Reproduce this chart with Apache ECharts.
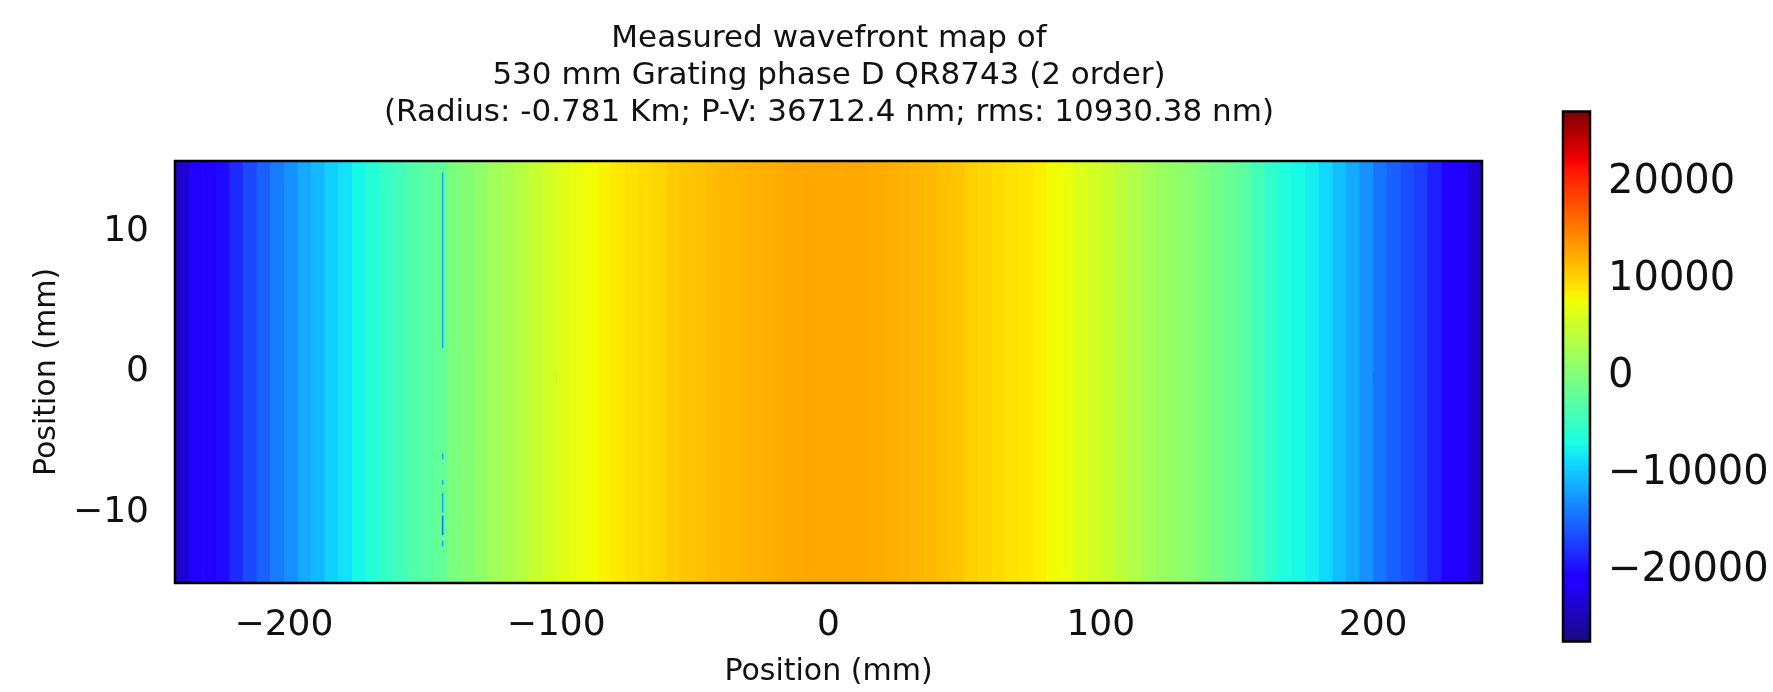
<!DOCTYPE html>
<html>
<head>
<meta charset="utf-8">
<script src="https://cdn.jsdelivr.net/npm/echarts@6/dist/echarts.min.js"></script>
<style>
  html, body { margin: 0; padding: 0; background: #ffffff; }
  #chart { width: 1773px; height: 692px; }
</style>
</head>
<body>
<div id="chart"></div>
<script>
// Column centres across the grating aperture (mm), one per 5 mm strip
const positionX = [
  -237.5, -232.5, -227.5, -222.5, -217.5, -212.5, -207.5, -202.5, -197.5, -192.5, -187.5, -182.5,
  -177.5, -172.5, -167.5, -162.5, -157.5, -152.5, -147.5, -142.5, -137.5, -132.5, -127.5, -122.5,
  -117.5, -112.5, -107.5, -102.5, -97.5, -92.5, -87.5, -82.5, -77.5, -72.5, -67.5, -62.5,
  -57.5, -52.5, -47.5, -42.5, -37.5, -32.5, -27.5, -22.5, -17.5, -12.5, -7.5, -2.5,
  2.5, 7.5, 12.5, 17.5, 22.5, 27.5, 32.5, 37.5, 42.5, 47.5, 52.5, 57.5,
  62.5, 67.5, 72.5, 77.5, 82.5, 87.5, 92.5, 97.5, 102.5, 107.5, 112.5, 117.5,
  122.5, 127.5, 132.5, 137.5, 142.5, 147.5, 152.5, 157.5, 162.5, 167.5, 172.5, 177.5,
  182.5, 187.5, 192.5, 197.5, 202.5, 207.5, 212.5, 217.5, 222.5, 227.5, 232.5, 237.5
];
// Measured wavefront height of each strip (nm)
const wavefront = [
  -23500, -21400, -20900, -20000, -18200, -16600, -15300, -13800, -12800, -11500, -10600, -9300,
  -8400, -7200, -6100, -5000, -4100, -3100, -2500, -1800, -300, 400, 1300, 2300,
  3000, 3900, 5000, 5700, 6600, 7300, 7800, 8400, 8900, 9300, 9700, 10000,
  10600, 10900, 11200, 11500, 11800, 11900, 12200, 12300, 12500, 12600, 12600, 12600,
  12600, 12600, 12600, 12500, 12400, 12200, 11900, 11700, 11300, 10900, 10300, 10000,
  9700, 9300, 9000, 8500, 7900, 7500, 6400, 5900, 5200, 4200, 3500, 2500,
  1900, 1400, 800, 100, -800, -1600, -2500, -4000, -5300, -6500, -7100, -7700,
  -8900, -10200, -11400, -12700, -14300, -15300, -16300, -17100, -18900, -20700, -21300, -23500
];
const stripWidth = 5;             // mm
const apertureX = [-240, 240];    // mm
const apertureY = [-15, 15];      // mm

// Drop-outs along one column of the measurement: x (mm), from / to y (mm), height (nm)
const defectX = -141.7;
const defectWidth = 0.6;
const defectFromY = [1.7, -6.2, -8.0, -10.0, -11.6, -12.4];
const defectToY = [14.2, -5.8, -7.7, -8.6, -10.2, -12.0];
const defectValue = [-11500, -11500, -11500, -11500, -14500, -11500];

// Axis ticks
const xTicks = [-200, -100, 0, 100, 200];
const yTicks = [-10, 0, 10];
const colorTicks = [-20000, -10000, 0, 10000, 20000];
const colorRange = [-27300, 27300];

const titleLines = [
  'Measured wavefront map of',
  '530 mm Grating phase D QR8743 (2 order)',
  '(Radius: -0.781 Km; P-V: 36712.4 nm; rms: 10930.38 nm)'
];

// jet colour map
const jetStops = [
  [0.000, '#1a0a80'], [0.110, '#2200ff'], [0.125, '#2000ff'], [0.340, '#10dcff'],
  [0.350, '#14e6f6'], [0.375, '#1affe2'], [0.640, '#eeff08'], [0.650, '#f8f600'],
  [0.660, '#ffec00'], [0.890, '#ff1400'], [0.910, '#f00000'], [1.000, '#800000']
];
function hexToRgb(h) {
  return [parseInt(h.slice(1, 3), 16), parseInt(h.slice(3, 5), 16), parseInt(h.slice(5, 7), 16)];
}
function sampleJet(t) {
  for (let i = 1; i < jetStops.length; i++) {
    if (t <= jetStops[i][0]) {
      const [t0, c0] = jetStops[i - 1];
      const [t1, c1] = jetStops[i];
      const f = (t - t0) / (t1 - t0);
      const a = hexToRgb(c0), b = hexToRgb(c1);
      return 'rgb(' + a.map((v, k) => Math.round(v + (b[k] - v) * f)).join(',') + ')';
    }
  }
  return jetStops[jetStops.length - 1][1];
}
const jetPalette = [];
for (let i = 0; i <= 200; i++) jetPalette.push(sampleJet(i / 200));

const FONT = 'DejaVu Sans';
const minus = v => String(v).replace('-', '\u2212');

const stripData = positionX.map((x, i) => [x, wavefront[i]]);
const defectData = defectFromY.map((y0, i) => [defectX, defectValue[i], y0, defectToY[i]]);

function renderStrip(params, api) {
  const x = api.value(0);
  const p0 = api.coord([x - stripWidth / 2, apertureY[1]]);
  const p1 = api.coord([x + stripWidth / 2, apertureY[0]]);
  return {
    type: 'rect',
    shape: { x: p0[0], y: p0[1], width: p1[0] - p0[0] + 0.6, height: p1[1] - p0[1] },
    style: { fill: api.visual('color') }
  };
}
function renderDefect(params, api) {
  const x = api.value(0);
  const p0 = api.coord([x - defectWidth / 2, api.value(3)]);
  const p1 = api.coord([x + defectWidth / 2, api.value(2)]);
  return {
    type: 'rect',
    shape: { x: p0[0], y: p0[1], width: p1[0] - p0[0], height: p1[1] - p0[1] },
    style: { fill: api.visual('color') }
  };
}
function renderColorbar(params, api) {
  const p0 = api.coord([0, colorRange[1]]);
  const p1 = api.coord([1, colorRange[0]]);
  return {
    type: 'rect',
    shape: { x: p0[0], y: p0[1], width: p1[0] - p0[0], height: p1[1] - p0[1] },
    style: {
      fill: new echarts.graphic.LinearGradient(0, 1, 0, 0,
        jetStops.map(([o, c]) => ({ offset: o, color: c })))
    }
  };
}

const tickStyle = { show: true, inside: false, length: 12, lineStyle: { color: '#000', width: 2.5 } };
const labelStyle = { color: '#111', fontSize: 36, fontFamily: FONT, formatter: minus };

const chart = echarts.init(document.getElementById('chart'), null, { renderer: 'canvas' });
chart.setOption({
  backgroundColor: '#ffffff',
  animation: false,
  title: {
    text: titleLines.join('\n'),
    left: 829,
    top: 20,
    padding: 0,
    textAlign: 'center',
    textVerticalAlign: 'top',
    textStyle: { fontFamily: FONT, fontSize: 31, lineHeight: 37, fontWeight: 'normal', color: '#111' }
  },
  grid: [
    { left: 175, top: 161, width: 1307, height: 431, show: true, z: 10,
      backgroundColor: 'transparent', borderColor: '#000', borderWidth: 2.5 },
    { left: 1563, top: 111.5, width: 27, height: 530, show: true, z: 10,
      backgroundColor: 'transparent', borderColor: '#000', borderWidth: 2.5 }
  ],
  xAxis: [
    {
      gridIndex: 0, type: 'value', min: apertureX[0], max: apertureX[1],
      axisLine: { show: false }, splitLine: { show: false },
      axisTick: Object.assign({ customValues: xTicks }, tickStyle),
      axisLabel: Object.assign({ customValues: xTicks, margin: 25 }, labelStyle),
      name: 'Position (mm)', nameLocation: 'middle', nameGap: 74,
      nameTextStyle: { fontFamily: FONT, fontSize: 30, color: '#111' }
    },
    { gridIndex: 1, type: 'value', min: 0, max: 1, show: false }
  ],
  yAxis: [
    {
      gridIndex: 0, type: 'value', min: apertureY[0], max: apertureY[1],
      axisLine: { show: false }, splitLine: { show: false },
      axisTick: Object.assign({ customValues: yTicks }, tickStyle),
      axisLabel: Object.assign({ customValues: yTicks, margin: 26, padding: [8, 0, 0, 0] }, labelStyle),
      name: 'Position (mm)', nameLocation: 'middle', nameGap: 111, nameRotate: 90,
      nameTextStyle: { fontFamily: FONT, fontSize: 30, color: '#111' }
    },
    {
      gridIndex: 1, type: 'value', position: 'right', min: colorRange[0], max: colorRange[1],
      axisLine: { show: false }, splitLine: { show: false },
      axisTick: Object.assign({ customValues: colorTicks }, tickStyle),
      axisLabel: Object.assign({ customValues: colorTicks, margin: 18, padding: [8, 0, 0, 0] },
        labelStyle, { fontSize: 40 })
    }
  ],
  visualMap: {
    type: 'continuous', show: false, seriesIndex: [0, 1], dimension: 1,
    min: colorRange[0], max: colorRange[1],
    inRange: { color: jetPalette }
  },
  series: [
    { type: 'custom', xAxisIndex: 0, yAxisIndex: 0, data: stripData, renderItem: renderStrip,
      encode: { x: 0 }, clip: true, silent: true },
    { type: 'custom', xAxisIndex: 0, yAxisIndex: 0, data: defectData, renderItem: renderDefect,
      encode: { x: 0 }, clip: true, silent: true, z: 3 },
    { type: 'custom', xAxisIndex: 1, yAxisIndex: 1, data: [[0]], renderItem: renderColorbar,
      encode: { x: 0 }, silent: true }
  ]
});
</script>
</body>
</html>
